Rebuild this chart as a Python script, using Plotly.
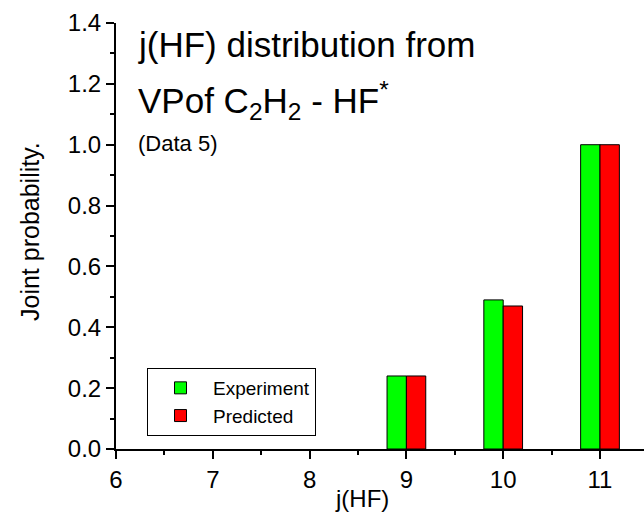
import plotly.graph_objects as go

# Data
j_values = [9, 10, 11]
experiment = [0.24, 0.49, 1.00]
predicted = [0.24, 0.47, 1.00]
x_ticks = [6, 7, 8, 9, 10, 11]
y_ticks = [0.0, 0.2, 0.4, 0.6, 0.8, 1.0, 1.2, 1.4]

FONT = "Arial"

fig = go.Figure()
fig.add_trace(go.Bar(
    x=j_values, y=experiment, name="Experiment",
    width=0.2, offset=-0.2,
    marker=dict(color="#00FF00", line=dict(color="black", width=1)),
))
fig.add_trace(go.Bar(
    x=j_values, y=predicted, name="Predicted",
    width=0.2, offset=0.0,
    marker=dict(color="#FF0000", line=dict(color="black", width=1)),
))

W, H = 644, 519
L, R, T, B = 116, 0, 23, 70
pw = W - L - R
ph = H - T - B

def px(xp):
    return (xp - L) / pw

def py(yp):
    return (H - B - yp) / ph

fig.update_layout(
    width=W, height=H,
    margin=dict(l=L, r=R, t=T, b=B),
    paper_bgcolor="white", plot_bgcolor="white",
    barmode="overlay",
    font=dict(family=FONT, color="black", size=20),
    showlegend=True,
    legend=dict(
        x=px(147), y=py(368), xanchor="left", yanchor="top",
        bordercolor="black", borderwidth=1, bgcolor="white",
        font=dict(size=19, family=FONT),
        itemwidth=55, tracegroupgap=0,
    ),
    xaxis=dict(
        range=[6, 6 + pw / 96.8],
        tickvals=x_ticks,
        ticktext=[str(v) for v in x_ticks],
        showgrid=False, zeroline=False,
        showline=True, linecolor="black", linewidth=2,
        ticks="outside", ticklen=8, tickwidth=2, tickcolor="black",
        tickfont=dict(size=24, family=FONT),
        minor=dict(dtick=0.5, tick0=6, ticks="outside", ticklen=4, tickwidth=2, tickcolor="black"),
    ),
    yaxis=dict(
        range=[0, 1.4],
        tickvals=y_ticks,
        ticktext=[f"{v:.1f}" for v in y_ticks],
        showgrid=False, zeroline=False,
        showline=True, linecolor="black", linewidth=2,
        ticks="outside", ticklen=8, tickwidth=2, tickcolor="black",
        tickfont=dict(size=24, family=FONT),
        minor=dict(dtick=0.1, tick0=0, ticks="outside", ticklen=4, tickwidth=2, tickcolor="black"),
    ),
    annotations=[
        dict(text="j(HF) distribution from", x=px(136), y=py(44), xref="paper", yref="paper",
             xanchor="left", yanchor="middle", showarrow=False, font=dict(size=35, family=FONT)),
        dict(text="VPof C<sub>2</sub>H<sub>2</sub> - HF<sup>*</sup>", x=px(136), y=py(101), xref="paper", yref="paper",
             xanchor="left", yanchor="middle", showarrow=False, font=dict(size=35, family=FONT)),
        dict(text="(Data 5)", x=px(136), y=py(143), xref="paper", yref="paper",
             xanchor="left", yanchor="middle", showarrow=False, font=dict(size=22, family=FONT)),
        dict(text="j(HF)", x=px(362), y=py(498), xref="paper", yref="paper",
             xanchor="center", yanchor="middle", showarrow=False, font=dict(size=24, family=FONT)),
        dict(text="Joint probability.", x=px(30), y=py(232), xref="paper", yref="paper",
             xanchor="center", yanchor="middle", textangle=-90, showarrow=False, font=dict(size=25, family=FONT)),
    ],
)

fig.write_html("out.html")
